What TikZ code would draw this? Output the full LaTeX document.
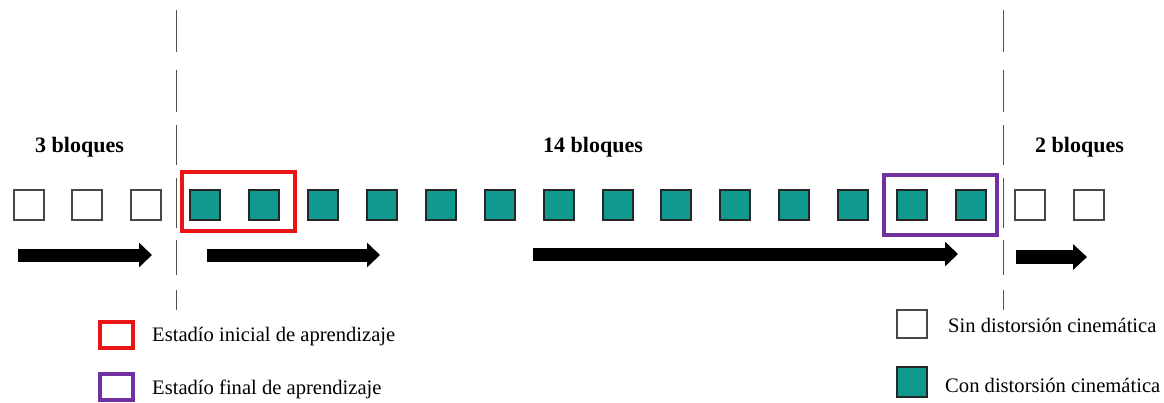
\documentclass[tikz,border=0pt]{standalone}
\usepackage{fontspec}
\setmainfont{Liberation Serif}
\usetikzlibrary{arrows.meta}
\definecolor{tealsq}{RGB}{16,153,143}
\definecolor{redbox}{RGB}{235,20,20}
\definecolor{purplebox}{RGB}{112,48,160}
\definecolor{dashgray}{RGB}{80,80,80}
\begin{document}
\begin{tikzpicture}[x=1pt,y=-1pt,
  blk/.style={draw=black!80,line width=2pt,minimum size=30pt,inner sep=0pt,outer sep=0pt},
  plainblk/.style={blk,fill=white,draw=black!72},
  distblk/.style={blk,fill=tealsq,draw=black!85},
  stagebox/.style={line width=4pt,inner sep=0pt,outer sep=0pt,minimum width=113pt,minimum height=59pt},
  legbox/.style={line width=3.6pt,inner sep=0pt,minimum width=33pt,minimum height=26pt},
  bigarrow/.style={line width=13pt,-{Triangle[length=13pt,width=24pt]}},
  divline/.style={draw=dashgray,line width=1.4pt},
  blabel/.style={font=\fontsize{22}{24}\selectfont\bfseries,anchor=base west,inner sep=0pt},
  llabel/.style={font=\fontsize{20.6}{22}\selectfont,anchor=base west,inner sep=0pt}]
\useasboundingbox (0,0) rectangle (1164,402);
% divider lines
\foreach \xx in {176.5,1003.5}{
  \foreach \ya/\yb in {10/52,70/112,125/165,178/228,240/275,290/310}{
    \draw[divline] (\xx,\ya) -- (\xx,\yb);
  }
}
% labels
\node[blabel] (l3) at (35,152) {3 bloques};
\node[blabel] (l14) at (543,152) {14 bloques};
\node[blabel] (l2) at (1035,152) {2 bloques};
% blocks
\foreach \i in {0,1,2}{
  \node[plainblk] (b\i) at ({28.5+58.9*\i},204.5) {};
}
\foreach \i in {3,...,16}{
  \node[distblk] (b\i) at ({28.5+58.9*\i},204.5) {};
}
\foreach \i in {17,18}{
  \node[plainblk] (b\i) at ({28.5+58.9*\i},204.5) {};
}
% stage boxes
\node[stagebox,draw=redbox] (ini) at (238.5,201.5) {};
\node[stagebox,draw=purplebox,minimum height=60pt] (fin) at (940.5,205) {};
% arrows
\coordinate (a1s) at (18,255);  \coordinate (a1e) at (152,255);
\coordinate (a2s) at (207,255); \coordinate (a2e) at (380,255);
\coordinate (a3s) at (533,254); \coordinate (a3e) at (958,254);
\coordinate (a4s) at (1016,257); \coordinate (a4e) at (1087,257);
\draw[bigarrow] (a1s) -- (a1e);
\draw[bigarrow] (a2s) -- (a2e);
\draw[bigarrow] (a3s) -- (a3e);
\draw[line width=14pt,-{Triangle[length=14pt,width=25pt]}] (a4s) -- (a4e);
% legend
\node[legbox,draw=redbox] (lgi) at (116.5,335) {};
\node[llabel] (tgi) at (152,341.7) {Estadío inicial de aprendizaje};
\node[legbox,draw=purplebox] (lgf) at (116.5,387) {};
\node[llabel] (tgf) at (152,394) {Estadío final de aprendizaje};
\node[plainblk,minimum height=28pt] (lgs) at (912,324) {};
\node[llabel] (tgs) at (948,332) {Sin distorsión cinemática};
\node[distblk] (lgc) at (912,382) {};
\node[llabel] (tgc) at (945,392) {Con distorsión cinemática};
\end{tikzpicture}
\end{document}
